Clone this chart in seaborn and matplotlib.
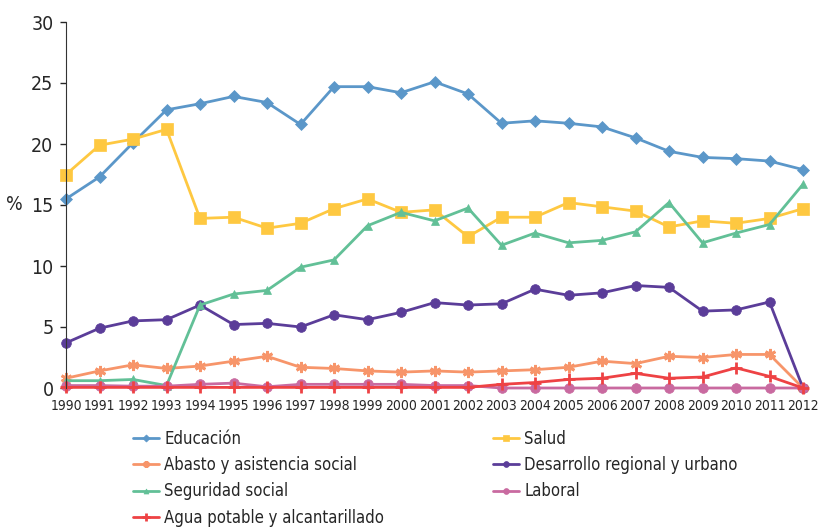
import numpy as np
import pandas as pd
import matplotlib
matplotlib.use("Agg")
import matplotlib.pyplot as plt
import seaborn as sns

# Datos (% del gasto)
anios = list(range(1990, 2013))

educacion = [15.5, 17.3, 20.1, 22.8, 23.3, 23.9, 23.4, 21.6, 24.7, 24.7, 24.2, 25.1,
             24.1, 21.7, 21.9, 21.7, 21.4, 20.5, 19.4, 18.9, 18.8, 18.6, 17.9]
salud = [17.5, 19.9, 20.4, 21.2, 13.9, 14.0, 13.1, 13.5, 14.7, 15.5, 14.4, 14.6,
         12.4, 14.0, 14.0, 15.2, 14.85, 14.5, 13.2, 13.7, 13.5, 13.9, 14.7]
abasto = [0.8, 1.4, 1.9, 1.6, 1.8, 2.2, 2.6, 1.7, 1.6, 1.4, 1.3, 1.4,
          1.3, 1.4, 1.5, 1.7, 2.2, 2.0, 2.6, 2.5, 2.75, 2.75, 0.0]
desarrollo = [3.7, 4.9, 5.5, 5.6, 6.8, 5.2, 5.3, 5.0, 6.0, 5.6, 6.2, 7.0,
              6.8, 6.9, 8.1, 7.6, 7.8, 8.4, 8.25, 6.3, 6.4, 7.05, 0.0]
seguridad = [0.6, 0.6, 0.7, 0.2, 6.8, 7.7, 8.0, 9.9, 10.5, 13.3, 14.4, 13.7,
             14.75, 11.7, 12.7, 11.9, 12.1, 12.8, 15.2, 11.9, 12.7, 13.4, 16.7]
laboral = [0.2, 0.2, 0.15, 0.15, 0.3, 0.4, 0.1, 0.3, 0.3, 0.3, 0.3, 0.2,
           0.2, 0.0, 0.0, 0.0, 0.0, 0.0, 0.0, 0.0, 0.0, 0.0, 0.0]
agua = [0.05, 0.05, 0.05, 0.05, 0.05, 0.05, 0.05, 0.05, 0.05, 0.05, 0.05, 0.05,
        0.05, 0.3, 0.45, 0.7, 0.8, 1.2, 0.8, 0.9, 1.65, 0.95, 0.0]

nombres = ["Educación", "Salud", "Abasto y asistencia social",
           "Desarrollo regional y urbano", "Seguridad social", "Laboral",
           "Agua potable y alcantarillado"]
series = [educacion, salud, abasto, desarrollo, seguridad, laboral, agua]
colores = ["#5b97c9", "#fec841", "#f7956a", "#5b3d99", "#62c097", "#c96aa0", "#ee4244"]
marcadores = ["D", "s", (6, 2, 0), "o", "^", "o", "+"]
tam_marcador = [6, 8, 8, 7, 6, 7, 9]

df = pd.DataFrame({"anio": anios})
for n, s in zip(nombres, series):
    df[n] = s
df_largo = df.melt(id_vars="anio", var_name="serie", value_name="valor")

sns.set_style("white")
plt.rcParams["font.family"] = ["DejaVu Sans"]
plt.rcParams["font.stretch"] = "condensed"

fig = plt.figure(figsize=(8.23, 5.28), dpi=100)
ax = fig.add_axes([66 / 823, 1 - 388 / 528, (803 - 66) / 823, (388 - 22) / 528])

for n, c, m, ms in zip(nombres, colores, marcadores, tam_marcador):
    sns.lineplot(data=df_largo[df_largo["serie"] == n], x="anio", y="valor",
                 color=c, marker=m, markersize=ms, markeredgecolor=c,
                 markeredgewidth=2.0 if m in [(6, 2, 0), "+"] else 0.5,
                 linewidth=2.0, label=n, ax=ax, clip_on=False)

ax.set_xlim(1990, 2012)
ax.set_ylim(0, 30)
ax.set_xticks(anios)
ax.set_xticklabels([str(a) for a in anios], fontsize=10)
ax.set_yticks(range(0, 31, 5))
ax.tick_params(axis="y", labelsize=14, length=4, width=1, left=True, pad=5)
ax.tick_params(axis="x", length=0, pad=8)
ax.set_xlabel("")
ax.set_ylabel("%", fontsize=14, rotation=0, labelpad=12, va="center")
for lado in ["top", "right", "bottom"]:
    ax.spines[lado].set_visible(False)
ax.spines["left"].set_color("#333333")

h, l = ax.get_legend_handles_labels()
orden = [0, 2, 4, 6, 1, 3, 5]
ax.legend([h[i] for i in orden], [l[i] for i in orden], ncol=2, frameon=False,
          loc="upper left", bbox_to_anchor=(126 / 823, 1 - 423 / 528),
          bbox_transform=fig.transFigure, fontsize=12, handlelength=1.6,
          handletextpad=0.3, columnspacing=6.5, labelspacing=0.5,
          borderaxespad=0, markerscale=0.6)

fig.savefig("out.png", dpi=100)
